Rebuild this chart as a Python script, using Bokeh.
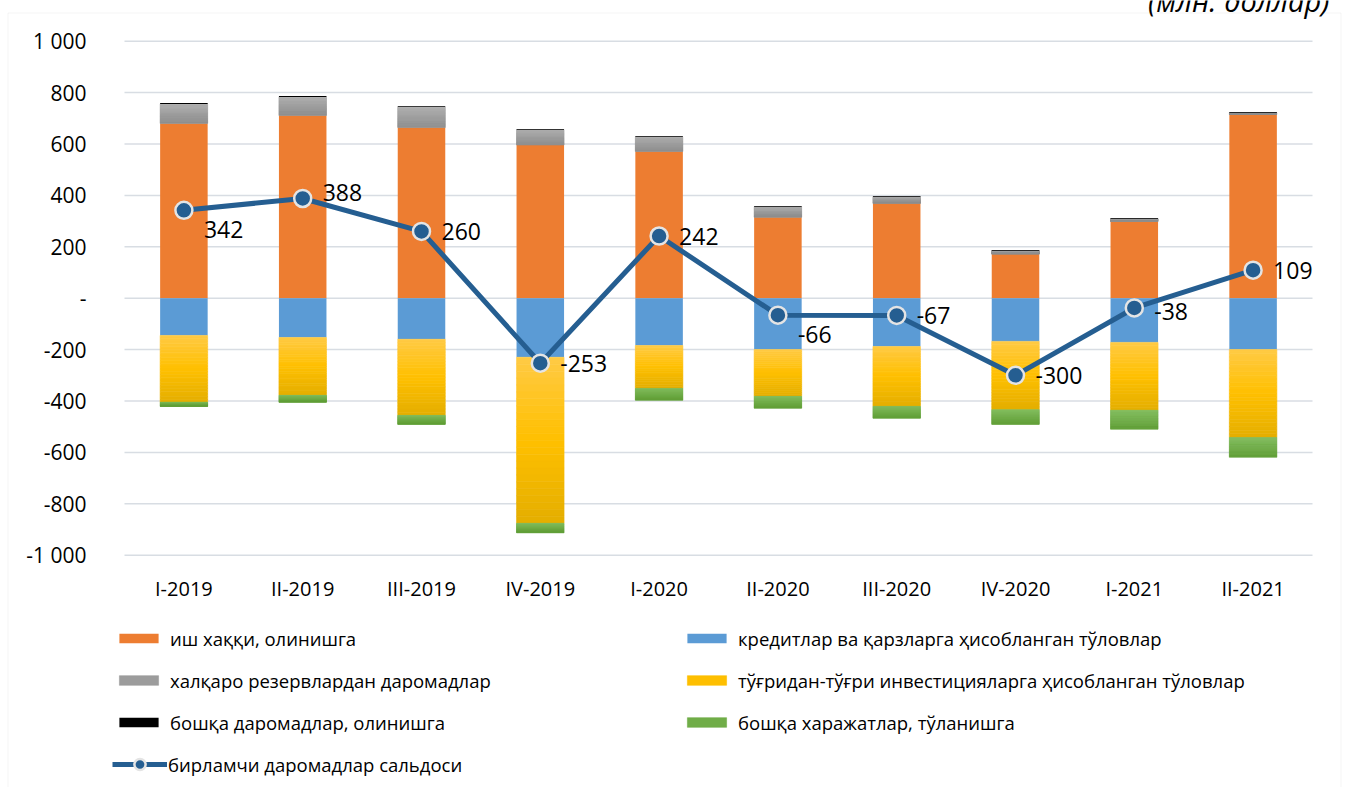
from bokeh.plotting import figure
from bokeh.models import (Range1d, FixedTicker, Legend, LegendItem,
                          ColumnDataSource, BoxAnnotation, Label)
from bokeh.core.properties import value
from bokeh.embed import file_html
from bokeh.resources import INLINE
import numpy as np

# ---------------- data (млн. доллар) ----------------
categories = ["I-2019", "II-2019", "III-2019", "IV-2019", "I-2020",
              "II-2020", "III-2020", "IV-2020", "I-2021", "II-2021"]
wages_received = [680, 711, 664, 596, 571, 315, 369, 172, 299, 715]
reserve_income = [76, 72, 80, 59, 57, 41, 26, 13, 10, 7]
other_income = [4, 4, 3, 3, 3, 3, 3, 3, 3, 3]
loan_payments = [-145, -153, -160, -230, -184, -200, -188, -168, -172, -200]
fdi_payments = [-260, -225, -296, -646, -167, -182, -233, -266, -264, -342]
other_expenses = [-16, -27, -35, -37, -46, -46, -46, -57, -74, -77]
primary_balance = [342, 388, 260, -253, 242, -66, -67, -300, -38, 109]

y_ticks = [-1000, -800, -600, -400, -200, 0, 200, 400, 600, 800, 1000]
y_tick_labels = ["-1 000", "-800", "-600", "-400", "-200", "-",
                 "200", "400", "600", "800", "1 000"]

series_names = ["иш хаққи, олинишга",
                "кредитлар ва қарзларга ҳисобланган тўловлар",
                "халқаро резервлардан даромадлар",
                "тўғридан-тўғри инвестицияларга ҳисобланган тўловлар",
                "бошқа даромадлар, олинишга",
                "бошқа харажатлар, тўланишга",
                "бирламчи даромадлар сальдоси"]
unit_note = "(млн. доллар)"

# label vertical nudges in px (style only)
label_nudge = [19, -6, 0, 0, 0, 19, 0, 0, 4, 0]

# ---------------- layout constants (px) ----------------
FONT = "Open Sans"
W, H = 1347, 787
PLOT_L, PLOT_R = 124, 1312        # plot area edges on canvas
PLOT_T, PLOT_B = 40.7, 554.7
Y_MIN, Y_MAX = -1000, 1000

n = len(categories)
xs = np.arange(n)
px_per_cat = (PLOT_R - PLOT_L) / n
u_per_px = (Y_MAX - Y_MIN) / (PLOT_B - PLOT_T)
x_range = Range1d(-0.5 - PLOT_L / px_per_cat, n - 0.5 + (W - PLOT_R) / px_per_cat)
y_range = Range1d(Y_MIN - (H - PLOT_B) * u_per_px, Y_MAX + PLOT_T * u_per_px)

p = figure(width=W, height=H, x_range=x_range, y_range=y_range,
           output_backend="svg", toolbar_location=None,
           min_border=0, min_border_left=0, min_border_right=0,
           min_border_top=0, min_border_bottom=0)
p.outline_line_color = None
p.background_fill_color = "white"
p.border_fill_color = "white"
p.xgrid.grid_line_color = None
p.ygrid.grid_line_color = None

# horizontal gridlines across the category band
p.segment(x0=[-0.5] * len(y_ticks), x1=[n - 0.5] * len(y_ticks), y0=y_ticks, y1=y_ticks,
          line_color="#D8DDE3", line_width=1.5)

BAR_W = 0.4


def hex2rgb(h):
    h = h.lstrip("#")
    return [int(h[i:i + 2], 16) for i in (0, 2, 4)]


def interp(stops, t):
    for (p0, c0), (p1, c1) in zip(stops[:-1], stops[1:]):
        if p0 <= t <= p1:
            f = (t - p0) / (p1 - p0) if p1 > p0 else 0
            a, b = hex2rgb(c0), hex2rgb(c1)
            return "#%02x%02x%02x" % tuple(int(round(a[i] + (b[i] - a[i]) * f)) for i in range(3))
    return stops[-1][1]


def solid_bars(a, b, color):
    return p.vbar(x=xs, top=list(b), bottom=list(a), width=BAR_W,
                  fill_color=color, line_color=None)


def gradient_bars(a, b, stops, steps=24):
    a = np.asarray(a, float)
    b = np.asarray(b, float)
    lo, hi = np.minimum(a, b), np.maximum(a, b)
    rends = []
    for k in range(steps):
        upper = hi - (hi - lo) * k / steps
        lower = hi - (hi - lo) * (k + 1) / steps
        c = interp(stops, (k + 0.5) / steps)
        rends.append(p.vbar(x=xs, top=upper.tolist(), bottom=lower.tolist(), width=BAR_W,
                            fill_color=c, line_color=c, line_width=0.6))
    return rends[steps // 2]


ORANGE = "#ED7D31"
BLUE = "#5B9BD5"
GRAY_STOPS = [(0, "#AEAEAE"), (1, "#8C8C8C")]
YELLOW_STOPS = [(0, "#FFCA45"), (0.5, "#FFC000"), (1, "#E4AE00")]
GREEN_STOPS = [(0, "#82BD5E"), (1, "#5F9E34")]
LINE_C = "#255E91"

o = np.array(wages_received, float)
g = o + np.array(reserve_income, float)
k = g + np.array(other_income, float)
bl = np.array(loan_payments, float)
ye = bl + np.array(fdi_payments, float)
gr = ye + np.array(other_expenses, float)

r_or = solid_bars(np.zeros(n), o, ORANGE)
r_gy = gradient_bars(o, g, GRAY_STOPS)
r_bk = solid_bars(g, k, "#000000")
r_bl = solid_bars(np.zeros(n), bl, BLUE)
r_ye = gradient_bars(bl, ye, YELLOW_STOPS)
r_gr = gradient_bars(ye, gr, GREEN_STOPS)

r_ln = p.line(xs, primary_balance, line_color=LINE_C, line_width=5)
r_pt = p.scatter(xs, primary_balance, marker="circle", size=17,
                 fill_color=LINE_C, line_color="#E4E4E4", line_width=2.5)

lab_src = ColumnDataSource(dict(x=xs, y=primary_balance,
                                t=[str(v) for v in primary_balance],
                                dy=label_nudge))
p.text(x="x", y="y", text="t", source=lab_src, x_offset=20, y_offset="dy",
       text_align="left", text_baseline="middle", text_font=value(FONT),
       text_font_size="23px", text_color="#000000")

# axes placed at the plot-area edges
p.yaxis.ticker = FixedTicker(ticks=y_ticks)
p.yaxis.major_label_overrides = dict(zip(y_ticks, y_tick_labels))
p.yaxis.fixed_location = -0.5
p.xaxis.ticker = FixedTicker(ticks=list(xs))
p.xaxis.major_label_overrides = {int(i): c for i, c in zip(xs, categories)}
p.xaxis.fixed_location = Y_MIN
for axl in (p.xaxis, p.yaxis):
    axl.axis_line_color = None
    axl.major_tick_line_color = None
    axl.minor_tick_line_color = None
    axl.major_tick_out = 0
    axl.major_tick_in = 0
    axl.major_label_text_font = FONT
    axl.major_label_text_color = "#000000"
p.yaxis.major_label_text_font_size = "21px"
p.yaxis.major_label_standoff = 38
p.xaxis.major_label_text_font_size = "20px"
p.xaxis.major_label_standoff = 20

leg_style = dict(orientation="vertical", glyph_width=49, glyph_height=12,
                 label_height=26, label_standoff=7, spacing=16, padding=0, margin=0,
                 background_fill_alpha=0, border_line_alpha=0,
                 label_text_font=FONT, label_text_font_size="18.5px",
                 label_text_color="#000000")
leg_left = Legend(items=[LegendItem(label=series_names[0], renderers=[r_or]),
                         LegendItem(label=series_names[2], renderers=[r_gy]),
                         LegendItem(label=series_names[4], renderers=[r_bk])],
                  location=(114, 52), **leg_style)
leg_right = Legend(items=[LegendItem(label=series_names[1], renderers=[r_bl]),
                          LegendItem(label=series_names[3], renderers=[r_ye]),
                          LegendItem(label=series_names[5], renderers=[r_gr])],
                   location=(682, 52), **leg_style)
line_style = dict(leg_style, glyph_height=28, glyph_width=55, label_standoff=1)
leg_line = Legend(items=[LegendItem(label=series_names[6], renderers=[r_ln, r_pt])],
                  location=(112, 9), **line_style)
p.add_layout(leg_left)
p.add_layout(leg_right)
p.add_layout(leg_line)

# outer chart border and unit note
border = BoxAnnotation(left=7.5, right=1340.5, top=12.5, bottom=H + 10,
                       left_units="canvas", right_units="canvas",
                       top_units="canvas", bottom_units="canvas",
                       fill_alpha=0, line_color="#D9D9D9", line_width=1)
p.add_layout(border)
note = Label(x=1329, y=0, x_units="canvas", y_units="canvas", text=unit_note,
             text_align="right", text_baseline="alphabetic", text_font=FONT,
             text_font_style="italic", text_font_size="29px", text_color="#000000")
p.add_layout(note)

open("out.html", "w").write(file_html(p, INLINE))
